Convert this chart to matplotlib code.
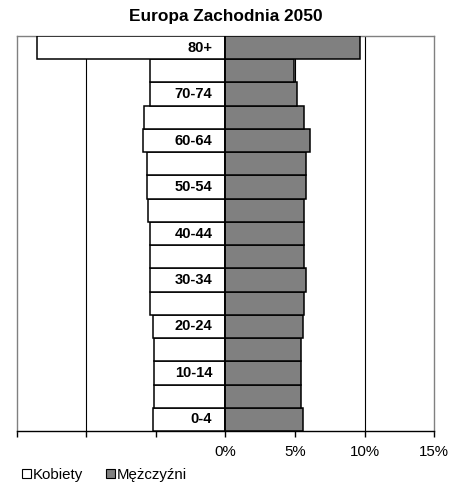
import matplotlib
matplotlib.use("Agg")
import matplotlib.pyplot as plt
from matplotlib.patches import Patch
from matplotlib.ticker import FuncFormatter

plt.rcParams['font.family'] = ['Liberation Sans', 'DejaVu Sans']

age_groups = ["0-4", "5-9", "10-14", "15-19", "20-24", "25-29", "30-34", "35-39",
              "40-44", "45-49", "50-54", "55-59", "60-64", "65-69", "70-74", "75-79", "80+"]
kobiety = [5.24, 5.14, 5.14, 5.14, 5.24, 5.46, 5.43, 5.43,
           5.43, 5.55, 5.65, 5.65, 5.96, 5.89, 5.43, 5.43, 13.53]
mezczyzni = [5.58, 5.46, 5.46, 5.46, 5.58, 5.67, 5.82, 5.67,
             5.67, 5.67, 5.77, 5.77, 6.11, 5.65, 5.14, 4.90, 9.66]
shown_labels = ["0-4", "10-14", "20-24", "30-34", "40-44", "50-54", "60-64", "70-74", "80+"]
x_ticks = [-15, -10, -5, 0, 5, 10, 15]

fig = plt.figure(figsize=(4.52, 4.84), dpi=100)
ax = fig.add_axes([17/452, 1-431/484, (434-17)/452, (431-36)/484])

y = list(range(len(age_groups)))
neg_k = [-v for v in kobiety]
ax.barh(y, neg_k, height=1.0, color='white', edgecolor='black', linewidth=1.1, zorder=3)
ax.barh(y, mezczyzni, height=1.0, color='#808080', edgecolor='black', linewidth=1.1, zorder=3)

for xv in [-10, -5, 5, 10]:
    ax.axvline(xv, color='black', linewidth=0.8, zorder=1)
ax.axvline(0, color='black', linewidth=1.1, zorder=4)

ax.set_xlim(-15, 15)
ax.set_ylim(-0.5, len(age_groups) - 0.5)
ax.set_xticks(x_ticks)
ax.xaxis.set_major_formatter(FuncFormatter(lambda v, p: f"{int(round(v))}%" if v >= 0 else ""))
ax.tick_params(axis='x', direction='out', length=4, width=1.0, labelsize=10.8, pad=6)
ax.set_yticks([])

for s in ['top', 'left', 'right']:
    ax.spines[s].set_color('#808080')
    ax.spines[s].set_linewidth(1.0)
ax.spines['bottom'].set_color('black')
ax.spines['bottom'].set_linewidth(1.0)

for i, lab in enumerate(age_groups):
    if lab in shown_labels:
        ax.annotate(lab, xy=(0, i), xytext=(-9.5, 0), textcoords='offset points',
                    ha='right', va='center', fontsize=10.5, fontweight='bold', zorder=5)

fig.text(0.5, 1 - 17/484, "Europa Zachodnia 2050", ha='center', va='center',
         fontsize=12.4, fontweight='bold')

handles = [Patch(facecolor='white', edgecolor='black', linewidth=0.8, label='Kobiety'),
           Patch(facecolor='#808080', edgecolor='black', linewidth=0.8, label='Mężczyźni')]
fig.legend(handles=handles, loc='center left', bbox_to_anchor=(22/452, 1 - 475/484),
           ncol=2, frameon=False, fontsize=10.8, handlelength=0.6, handleheight=0.6,
           handletextpad=0.15, columnspacing=1.5, borderpad=0, borderaxespad=0)

fig.savefig("out.png", dpi=100)
